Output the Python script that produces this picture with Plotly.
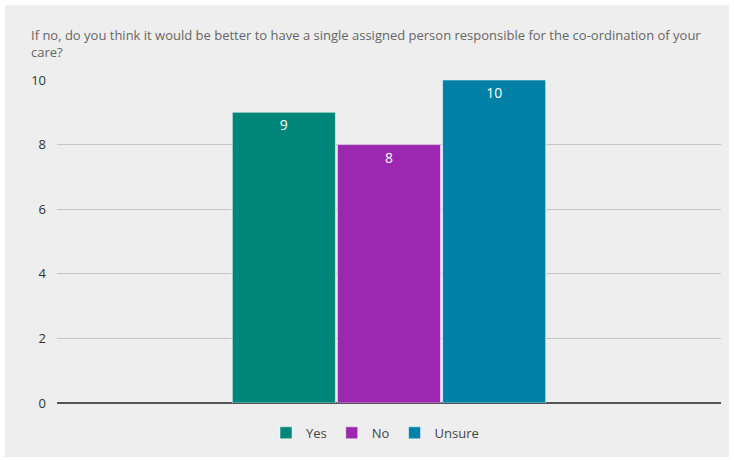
import plotly.graph_objects as go

title = "If no, do you think it would be better to have a single assigned person responsible for the co-ordination of your<br>care?"
categories = ["Yes", "No", "Unsure"]
values = [9, 8, 10]
colors = ["#00857a", "#9c27b0", "#0080a6"]

fig = go.Figure()
for c, v, col in zip(categories, values, colors):
    fig.add_trace(go.Bar(
        x=[""], y=[v], name=c,
        marker=dict(color=col, line=dict(color="rgba(255,255,255,0.5)", width=1)),
        text=[str(v)], textposition="inside", insidetextanchor="end",
        textfont=dict(color="white", size=14, family="Open Sans"),
        textangle=0,
    ))

L, R, T, B = 57, 13, 80, 57
W, H = 734, 460
pw, ph = W - L - R, H - T - B
fig.add_shape(type="rect", xref="paper", yref="paper",
              x0=(5 - L) / pw, x1=(729 - L) / pw,
              y0=(H - B - 457) / ph, y1=(H - B - 5) / ph,
              fillcolor="#eeeeee", line=dict(width=0), layer="below")

fig.add_annotation(text=title, xref="paper", yref="paper",
                   x=(29 - L) / pw, y=(H - B - 24) / ph, xanchor="left", yanchor="top",
                   align="left", showarrow=False,
                   font=dict(family="Open Sans", size=13, color="#666666"))

fig.update_layout(
    width=W, height=H,
    margin=dict(l=L, r=R, t=T, b=B, autoexpand=False),
    paper_bgcolor="white", plot_bgcolor="#eeeeee",
    barmode="group", bargap=0.525, bargroupgap=0.02,
    showlegend=True,
    legend=dict(orientation="h", x=(375 - L) / pw, xanchor="center", y=-0.046, yanchor="top",
                font=dict(family="Open Sans", size=13, color="#444444"),
                itemwidth=30,
                bgcolor="rgba(0,0,0,0)"),
    xaxis=dict(showticklabels=False, showgrid=False, zeroline=False,
               showline=False),
    yaxis=dict(range=[0, 10], tickvals=[0, 2, 4, 6, 8, 10],
               gridcolor="#c6c6c6", gridwidth=1,
               zeroline=True, zerolinecolor="#555555", zerolinewidth=1.5,
               ticks="", ticklabelstandoff=10,
               tickfont=dict(family="Open Sans", size=13, color="#333333")),
    font=dict(family="Open Sans"),
)

fig.write_html("out.html")
